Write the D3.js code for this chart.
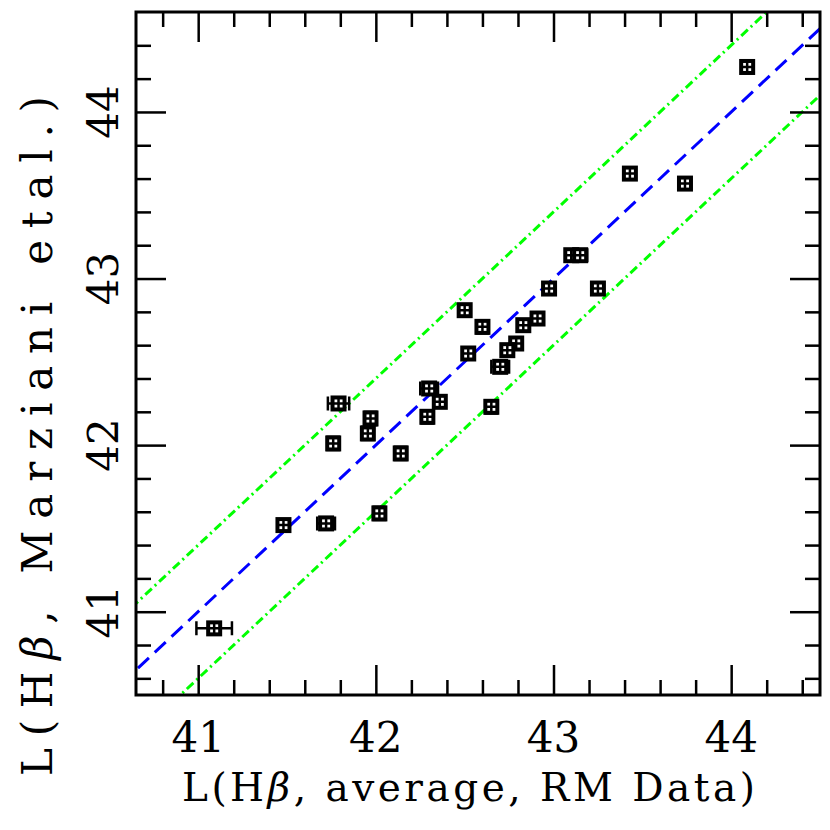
<!DOCTYPE html>
<html>
<head>
<meta charset="utf-8">
<script src="https://cdn.jsdelivr.net/npm/d3@7"></script>
<style>
  body { margin: 0; background: #fff; }
  text { font-family: "DejaVu Serif", "Liberation Serif", serif; fill: #000; }
</style>
</head>
<body>
<div id="chart"></div>
<script>
// data
let lumRM   = [41.09, 41.48, 41.72, 42.02, 41.79, 41.97, 41.955, 41.76, 42.14, 42.30, 42.36, 42.29,
               42.50, 42.60, 42.52, 42.975, 42.91, 42.83, 42.79, 42.74, 42.70, 42.65, 43.10, 43.15,
               43.25, 43.43, 43.74, 44.09];
let lumMarz = [40.90, 41.52, 41.53, 41.59, 42.25, 42.16, 42.07, 42.01, 41.95, 42.34, 42.26, 42.17,
               42.81, 42.71, 42.55, 42.94, 42.76, 42.72, 42.61, 42.57, 42.47, 42.23, 43.14, 43.14,
               42.94, 43.63, 43.57, 44.27];
let errRM   = [0.10, 0.03, 0.05, 0.03, 0.06, 0.03, 0.03, 0.03, 0.03, 0.05, 0.03, 0.03,
               0.03, 0.03, 0.03, 0.03, 0.03, 0.03, 0.03, 0.03, 0.05, 0.03, 0.03, 0.04,
               0.03, 0.03, 0.03, 0.03];
let errMarz = [0.02, 0.03, 0.03, 0.04, 0.03, 0.04, 0.04, 0.04, 0.04, 0.03, 0.03, 0.04,
               0.03, 0.04, 0.03, 0.03, 0.03, 0.03, 0.03, 0.03, 0.03, 0.04, 0.03, 0.03,
               0.03, 0.03, 0.03, 0.03];
let xTicks = [41, 42, 43, 44];
let yTicks = [41, 42, 43, 44];
let bandOffset = 0.4;

function drawChart() {
    let W = 830, H = 830;
    let margin = {top: 12, right: 10, bottom: 135, left: 136};
    let width = W - margin.left - margin.right;
    let height = H - margin.top - margin.bottom;

    let svg = d3.select("#chart").append("svg")
        .attr("width", W).attr("height", H);

    let g = svg.append("g")
        .attr("transform", "translate(" + margin.left + "," + margin.top + ")");

    let x = d3.scaleLinear().domain([40.65, 44.5]).range([0, width]);
    let y = d3.scaleLinear().domain([40.5, 44.6]).range([height, 0]);

    g.append("clipPath").attr("id", "clip")
        .append("rect").attr("width", width).attr("height", height);

    // reference lines: y = x and +-0.4
    let lines = [
        {off: 0, color: "#0000ff", dash: "15,8"},
        {off: bandOffset, color: "#00ff00", dash: "9,4,2,4"},
        {off: -bandOffset, color: "#00ff00", dash: "9,4,2,4"}
    ];
    let line = d3.line().x(d => x(d[0])).y(d => y(d[1]));
    g.append("g").attr("clip-path", "url(#clip)")
        .selectAll("path")
        .data(lines)
        .join("path")
        .attr("fill", "none")
        .attr("stroke", d => d.color)
        .attr("stroke-width", 3)
        .attr("stroke-dasharray", d => d.dash)
        .attr("d", d => line([[40, 40 + d.off], [45.5, 45.5 + d.off]]));

    // error bars
    let pts = lumRM.map((v, i) => ({x: v, y: lumMarz[i], ex: errRM[i], ey: errMarz[i]}));
    let cap = 7;
    let eb = g.append("g").attr("stroke", "#000").attr("stroke-width", 2.5).attr("fill", "none");
    eb.selectAll(".eb")
        .data(pts)
        .join("path")
        .attr("d", function(d) {
            let cx = x(d.x), cy = y(d.y);
            let x0 = x(d.x - d.ex), x1 = x(d.x + d.ex);
            let y0 = y(d.y - d.ey), y1 = y(d.y + d.ey);
            return "M" + x0 + "," + cy + "H" + x1 +
                   "M" + x0 + "," + (cy - cap) + "V" + (cy + cap) +
                   "M" + x1 + "," + (cy - cap) + "V" + (cy + cap) +
                   "M" + cx + "," + y0 + "V" + y1 +
                   "M" + (cx - cap) + "," + y0 + "H" + (cx + cap) +
                   "M" + (cx - cap) + "," + y1 + "H" + (cx + cap);
        });

    // square markers with a cross
    let s = 6;
    let mk = g.append("g").selectAll(".mk")
        .data(pts)
        .join("g")
        .attr("transform", d => "translate(" + x(d.x) + "," + y(d.y) + ")");
    mk.append("rect")
        .attr("x", -s).attr("y", -s).attr("width", 2 * s).attr("height", 2 * s)
        .attr("fill", "#fff").attr("stroke", "#000").attr("stroke-width", 4);
    mk.append("path")
        .attr("d", "M" + (-s) + ",0H" + s + "M0," + (-s) + "V" + s)
        .attr("stroke", "#000").attr("stroke-width", 2.5);

    // axes: inward ticks on all four sides
    let minor = d3.range(40.8, 44.5, 0.2).filter(v => Math.abs(v - Math.round(v)) > 0.01);
    let yMinor = d3.range(40.6, 44.6, 0.2).filter(v => Math.abs(v - Math.round(v)) > 0.01);

    function styleAxis(sel) {
        sel.select(".domain").remove();
        sel.selectAll("text").remove();
        sel.selectAll("line").attr("stroke", "#000").attr("stroke-width", 2.5);
    }
    g.append("g").attr("transform", "translate(0," + height + ")")
        .call(d3.axisBottom(x).tickValues(xTicks).tickSize(-30)).call(styleAxis);
    g.append("g").attr("transform", "translate(0," + height + ")")
        .call(d3.axisBottom(x).tickValues(minor).tickSize(-15)).call(styleAxis);
    g.append("g")
        .call(d3.axisTop(x).tickValues(xTicks).tickSize(-30)).call(styleAxis);
    g.append("g")
        .call(d3.axisTop(x).tickValues(minor).tickSize(-15)).call(styleAxis);
    g.append("g")
        .call(d3.axisLeft(y).tickValues(yTicks).tickSize(-30)).call(styleAxis);
    g.append("g")
        .call(d3.axisLeft(y).tickValues(yMinor).tickSize(-15)).call(styleAxis);
    g.append("g").attr("transform", "translate(" + width + ",0)")
        .call(d3.axisRight(y).tickValues(yTicks).tickSize(-30)).call(styleAxis);
    g.append("g").attr("transform", "translate(" + width + ",0)")
        .call(d3.axisRight(y).tickValues(yMinor).tickSize(-15)).call(styleAxis);

    g.append("rect")
        .attr("width", width).attr("height", height)
        .attr("fill", "none").attr("stroke", "#000").attr("stroke-width", 3);

    // tick labels
    g.selectAll(".xlab")
        .data(xTicks)
        .join("text")
        .attr("x", d => x(d))
        .attr("y", height + 57)
        .attr("text-anchor", "middle")
        .style("font-size", "42px")
        .text(d => d);

    g.selectAll(".ylab")
        .data(yTicks)
        .join("text")
        .attr("transform", d => "translate(-18," + y(d) + ") rotate(-90)")
        .attr("text-anchor", "middle")
        .style("font-size", "42px")
        .text(d => d);

    // axis titles, beta in italics
    function title(sel, rest) {
        sel.append("tspan").text("L(H");
        sel.append("tspan").style("font-style", "italic").text("\u03B2");
        sel.append("tspan").text(rest);
    }
    svg.append("text")
        .attr("x", 182).attr("y", 801)
        .attr("textLength", 573).attr("lengthAdjust", "spacing")
        .style("font-size", "39px")
        .call(title, ", average, RM Data)");

    svg.append("text")
        .attr("transform", "translate(52,776) rotate(-90)")
        .attr("textLength", 680).attr("lengthAdjust", "spacing")
        .style("font-size", "42px")
        .call(title, ", Marziani etal.)");
}

drawChart();
</script>
</body>
</html>
